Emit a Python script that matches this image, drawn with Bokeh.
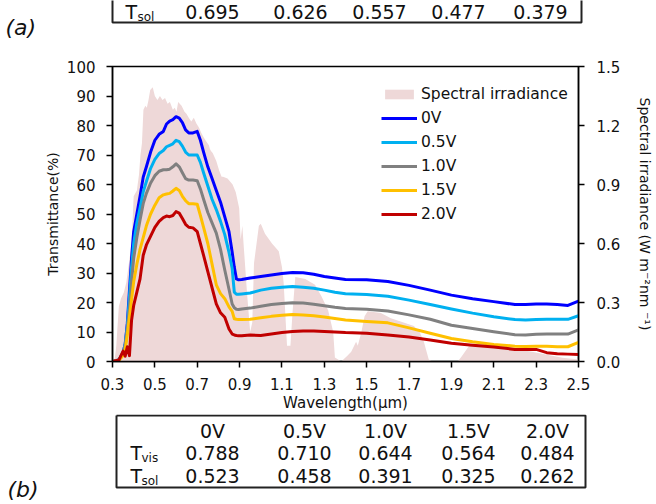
from bokeh.plotting import figure
from bokeh.models import (Range1d, LinearAxis, FixedTicker, PrintfTickFormatter, Legend,
                          LegendItem)
from bokeh.embed import file_html
from bokeh.resources import INLINE
from bokeh.core.properties import value

FONT = "DejaVu Sans"

# ---------------- data ----------------
wl = [0.30, 0.33, 0.35, 0.36, 0.37, 0.38, 0.39, 0.40, 0.415, 0.43, 0.445, 0.46, 0.48, 0.50,
      0.52, 0.54, 0.555, 0.57, 0.585, 0.60, 0.615, 0.63, 0.645, 0.66, 0.68, 0.70, 0.715,
      0.73, 0.75, 0.77, 0.79, 0.81, 0.83, 0.85, 0.865, 0.875, 0.885, 0.895, 0.91, 0.95,
      1.0, 1.05, 1.1, 1.15, 1.2, 1.25, 1.3, 1.35, 1.4, 1.5, 1.6, 1.7, 1.8, 1.9, 2.0, 2.1,
      2.2, 2.25, 2.3, 2.35, 2.4, 2.45, 2.5]

t_0v = [0, 0.5, 3, 6, 13, 24, 35, 44, 50, 56, 62.5, 66, 71, 75,
        77, 78, 80.5, 81.5, 82, 83, 82.5, 81, 78.5, 77.5, 77.5, 78, 75,
        71, 66, 62, 58, 54, 49, 44, 37, 32, 28, 27.7, 27.8, 28.3,
        28.8, 29.3, 29.8, 30.2, 30.1, 29.6, 28.8, 28.3, 27.8, 27.7, 27.1, 25.8, 24.2, 22.5, 21.3, 20.3,
        19.3, 19.3, 19.5, 19.5, 19.3, 19.0, 20.5]

t_05v = [0, 0.5, 3, 6, 12, 22, 32, 40, 47, 52, 57.5, 61, 65.5, 68.5,
         70.5, 71.5, 72.8, 73.3, 73.8, 75, 74.5, 73, 71, 70, 70, 70, 67.5,
         64, 59.5, 55, 51.5, 47.5, 43, 37, 31.5, 23.5, 22.8, 22.8, 22.9, 23.2,
         24.2, 24.8, 25.2, 25.4, 25.2, 24.8, 24.2, 23.5, 23.0, 22.7, 22.1, 20.8, 19.3, 17.8, 16.4, 15.2,
         14.2, 14.1, 14.2, 14.3, 14.3, 14.3, 15.5]

t_10v = [0, 0.5, 3, 5.5, 11, 18, 27, 35, 42, 48, 53.5, 57, 60.5, 63,
         64.5, 65, 65, 65.2, 66, 67, 66, 64, 62, 61.5, 61.5, 61.3, 58.5,
         55, 50.5, 47, 43.5, 38, 31, 24.5, 19.5, 18.2, 17.7, 17.6, 17.8, 18.1,
         18.7, 19.3, 19.7, 19.9, 19.8, 19.4, 18.9, 18.4, 18.0, 17.7, 17.1, 15.8, 14.3, 12.3, 11.2, 10.1,
         9.1, 9.0, 9.2, 9.3, 9.3, 9.3, 10.7]

t_15v = [0, 0.3, 2, 4, 9, 15, 21, 27, 33, 38, 42, 46, 50, 53,
         55.5, 56.5, 56.8, 57, 57.8, 58.7, 58, 56, 54.5, 53.5, 53.5, 53.3, 49.5,
         45.5, 40, 33, 26, 23, 21.3, 18.5, 17, 14.5, 14.3, 14.2, 14.2, 14.3,
         14.8, 15.3, 15.7, 15.9, 15.8, 15.5, 15.1, 14.6, 14.1, 13.6, 13.1, 11.4, 9.6, 7.8, 6.7, 5.8,
         5.2, 5.1, 5.2, 5.2, 5.0, 5.0, 6.5]

t_20v = [0, 0.5, 3.5, 1.8, 5, 2, 14, 19, 23.5, 28, 36, 39.5, 42.5, 45.5,
         47.5, 48.8, 49.3, 49.1, 49.5, 50.8, 50.3, 48.5, 46.5, 45.5, 45.3, 44, 40,
         36, 30.5, 25, 19.5, 16.5, 15, 11, 9.3, 9.0, 8.8, 8.7, 8.7, 9.0,
         8.8, 9.3, 9.8, 10.2, 10.3, 10.3, 10.2, 10.0, 9.8, 9.6, 9.0, 8.3, 7.3, 6.2, 5.5, 4.9,
         4.1, 4.1, 4.1, 3.0, 2.6, 2.5, 2.4]

irr_wl = [0.300, 0.310, 0.318, 0.322, 0.330, 0.340, 0.353, 0.365, 0.375, 0.384, 0.392, 0.400,
          0.415, 0.425, 0.432, 0.439, 0.446, 0.455, 0.462, 0.470, 0.478, 0.490, 0.500, 0.512,
          0.524, 0.536, 0.548, 0.560, 0.571, 0.585, 0.594, 0.602, 0.610, 0.626, 0.640, 0.649,
          0.660, 0.672, 0.684, 0.696, 0.708, 0.720, 0.730, 0.742, 0.755, 0.760, 0.765, 0.773,
          0.790, 0.804, 0.815, 0.822, 0.843, 0.867, 0.882, 0.898, 0.905, 0.913, 0.920, 0.935,
          0.950, 0.960, 0.968, 0.991, 1.000, 1.020, 1.053, 1.085, 1.100, 1.108, 1.124, 1.140,
          1.150, 1.163, 1.210, 1.256, 1.287, 1.318, 1.342, 1.350, 1.380, 1.410, 1.427, 1.450,
          1.458, 1.475, 1.490, 1.505, 1.567, 1.614, 1.660, 1.723, 1.750, 1.770, 1.793, 1.810,
          1.930, 1.949, 1.988, 2.034, 2.112, 2.190, 2.268, 2.346, 2.424, 2.500]

irr = [0.0, 0.01, 0.08, 0.15, 0.28, 0.32, 0.35, 0.40, 0.48, 0.55, 0.65, 0.84,
       0.87, 0.95, 1.05, 1.11, 1.28, 1.30, 1.29, 1.33, 1.38, 1.395, 1.35, 1.33,
       1.35, 1.33, 1.34, 1.31, 1.32, 1.28, 1.29, 1.27, 1.32, 1.30, 1.27, 1.26,
       1.24, 1.22, 1.24, 1.21, 1.19, 1.16, 1.14, 1.12, 1.10, 1.08, 1.07, 1.06,
       1.02, 0.97, 0.94, 0.94, 0.93, 0.90, 0.86, 0.78, 0.62, 0.69, 0.58, 0.35,
       0.15, 0.20, 0.50, 0.69, 0.70, 0.65, 0.60, 0.56, 0.48, 0.40, 0.08, 0.08,
       0.25, 0.43, 0.42, 0.39, 0.33, 0.26, 0.15, 0.02, 0.0, 0.03, 0.05, 0.10,
       0.08, 0.15, 0.23, 0.255, 0.247, 0.22, 0.204, 0.18, 0.15, 0.10, 0.01, 0.0,
       0.0, 0.027, 0.086, 0.095, 0.078, 0.061, 0.052, 0.035, 0.019, 0.01]

series_labels = ["0V", "0.5V", "1.0V", "1.5V", "2.0V"]
series_values = [t_0v, t_05v, t_10v, t_15v, t_20v]
series_colors = ["#0000FF", "#00B0F0", "#808080", "#FFC000", "#C00000"]
PINK = "#EED8D8"

x_ticks = [0.3, 0.5, 0.7, 0.9, 1.1, 1.3, 1.5, 1.7, 1.9, 2.1, 2.3, 2.5]
y_ticks = [0, 10, 20, 30, 40, 50, 60, 70, 80, 90, 100]
irr_ticks = [0.0, 0.3, 0.6, 0.9, 1.2, 1.5]

# tables
tab_voltages = ["0V", "0.5V", "1.0V", "1.5V", "2.0V"]
tab_b_vis = ["0.788", "0.710", "0.644", "0.564", "0.484"]
tab_b_sol = ["0.523", "0.458", "0.391", "0.325", "0.262"]
tab_a_sol = ["0.695", "0.626", "0.557", "0.477", "0.379"]

W = 656
TOP_H, MAIN_H, BOT_H = 56, 358, 90
INK = "#111111"


def strip(h):
    f = figure(width=W, height=h, x_range=Range1d(0, W), y_range=Range1d(h, 0),
               output_backend="svg", toolbar_location=None, min_border=0,
               x_axis_type=None, y_axis_type=None)
    f.outline_line_color = None
    f.grid.visible = False
    return f


def texts(f, xs, ys, labels, size="19px", align="center", style="normal"):
    f.text(x=xs, y=ys, text=labels, text_align=align, text_baseline="middle",
           text_font=value(FONT), text_font_size=size, text_font_style=style,
           text_color=INK)


# ---------------- top strip: end of table (a) ----------------
top = strip(TOP_H)
a_left, a_right, a_bottom = 112, 581, 22
a_cols = [212, 300, 379, 458, 540]
top.line(x=[a_left, a_left, a_right, a_right], y=[-5, a_bottom, a_bottom, -5],
         line_color="#222222", line_width=2)
texts(top, a_cols, [11] * 5, tab_a_sol)
texts(top, [125], [11], ["T"], align="left")
texts(top, [137], [16], ["sol"], size="12px", align="left")
texts(top, [5], [27], ["(a)"], size="22px", align="left", style="italic")

# ---------------- main chart ----------------
FL, FR = 112, 583
p = figure(width=W, height=MAIN_H, x_range=Range1d(0.3, 2.5), y_range=Range1d(0, 100),
           output_backend="svg", toolbar_location=None,
           min_border_left=FL, min_border_right=W - FR, min_border_top=10,
           min_border_bottom=52)
p.extra_y_ranges = {"irr": Range1d(0, 1.5)}
p.grid.visible = False
p.outline_line_color = "black"
p.outline_line_width = 1.5

area = p.varea(x=irr_wl, y1=0, y2=irr, y_range_name="irr", fill_color=PINK)
items = [LegendItem(label="Spectral irradiance", renderers=[area])]
for lab, vals, col in zip(series_labels, series_values, series_colors):
    r = p.line(wl, vals, line_color=col, line_width=3, line_join="round")
    items.append(LegendItem(label=lab, renderers=[r]))

p.xaxis[0].ticker = FixedTicker(ticks=x_ticks)
p.xaxis[0].formatter = PrintfTickFormatter(format="%.1f")
p.xaxis[0].axis_label = "Wavelength(μm)"
p.yaxis[0].ticker = FixedTicker(ticks=y_ticks)
p.yaxis[0].axis_label = "Transmittance(%)"

ax_r = LinearAxis(y_range_name="irr", ticker=FixedTicker(ticks=irr_ticks),
                  formatter=PrintfTickFormatter(format="%.1f"),
                  axis_label="Spectral irradiance (W m⁻²nm ⁻¹)")
for ax in [p.xaxis[0], p.yaxis[0], ax_r]:
    ax.major_tick_in = 0
    ax.major_tick_out = 6
    ax.minor_tick_in = 0
    ax.minor_tick_out = 0
    ax.axis_line_width = 1.5
    ax.axis_line_color = "black"
    ax.major_tick_line_width = 1.5
    ax.major_tick_line_color = "black"
    ax.major_label_text_font = FONT
    ax.major_label_text_font_size = "15px"
    ax.major_label_text_color = INK
    ax.axis_label_text_font = FONT
    ax.axis_label_text_font_style = "normal"
    ax.axis_label_text_color = INK
p.xaxis[0].major_label_standoff = 10
p.xaxis[0].axis_label_standoff = 1
p.xaxis[0].axis_label_text_font_size = "15px"
p.yaxis[0].major_label_standoff = 11
p.yaxis[0].axis_label_standoff = 3
p.yaxis[0].axis_label_text_font_size = "14px"
ax_r.major_label_standoff = 12
ax_r.axis_label_standoff = 14
ax_r.axis_label_text_font_size = "14px"
p.add_layout(ax_r, "right")

legend = Legend(items=items, location=(269, 137), padding=0, margin=0, spacing=4,
                glyph_width=36, glyph_height=12, label_height=20, label_standoff=4,
                label_text_font=FONT, label_text_font_size="15.5px",
                label_text_color=INK, background_fill_alpha=0,
                border_line_color=None)
p.add_layout(legend)

# ---------------- bottom strip: table (b) ----------------
Y_OFF = TOP_H + MAIN_H
bot = strip(BOT_H)
b_left, b_right, b_top, b_bottom = 116, 585, 415 - Y_OFF, 487 - Y_OFF
b_cols = [212, 304, 385, 468, 547]
row_y = [430 - Y_OFF, 452 - Y_OFF, 475 - Y_OFF]
bot.line(x=[b_left, b_right, b_right, b_left, b_left], y=[b_top, b_top, b_bottom, b_bottom, b_top],
         line_color="#222222", line_width=2)
texts(bot, b_cols, [row_y[0]] * 5, tab_voltages)
texts(bot, b_cols, [row_y[1]] * 5, tab_b_vis)
texts(bot, b_cols, [row_y[2]] * 5, tab_b_sol)
texts(bot, [130, 130], row_y[1:], ["T", "T"], align="left")
texts(bot, [141, 141], [r + 5 for r in row_y[1:]], ["vis", "sol"], size="12px", align="left")
texts(bot, [7], [489 - Y_OFF], ["(b)"], size="22px", align="left", style="italic")

open("out.html", "w").write(file_html([top, p, bot], INLINE))
